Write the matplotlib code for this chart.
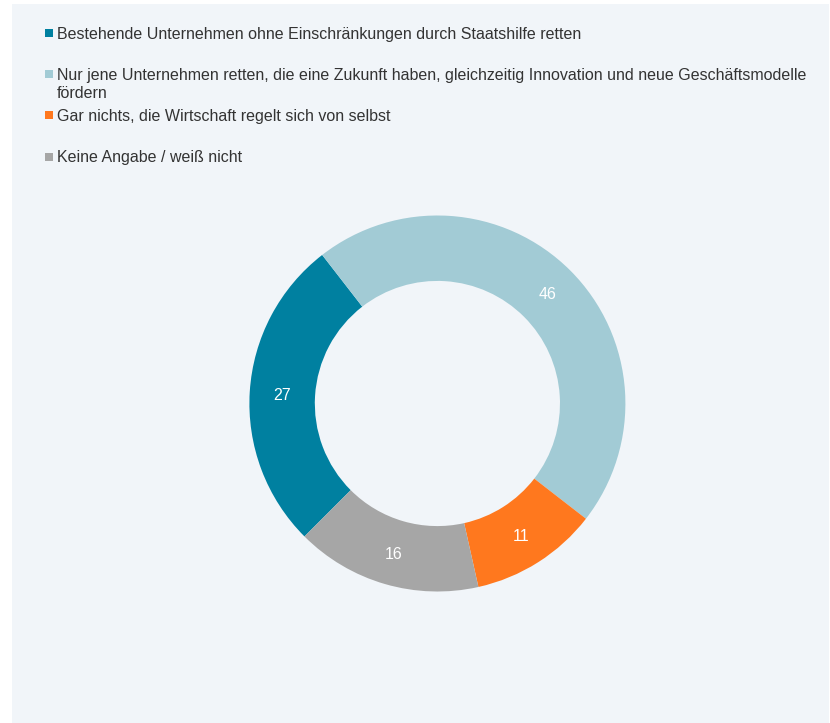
import textwrap
import matplotlib
matplotlib.use("Agg")
import matplotlib.pyplot as plt
from matplotlib.patches import Rectangle

categories = [
    "Bestehende Unternehmen ohne Einschränkungen durch Staatshilfe retten",
    "Nur jene Unternehmen retten, die eine Zukunft haben, gleichzeitig Innovation und neue Geschäftsmodelle fördern",
    "Gar nichts, die Wirtschaft regelt sich von selbst",
    "Keine Angabe / weiß nicht",
]
values = [27, 46, 11, 16]
colors = ["#0080A0", "#A2CBD5", "#FF781E", "#A6A6A6"]

plt.rcParams['font.family'] = ['Liberation Sans', 'DejaVu Sans']

W, H = 830, 723
fig = plt.figure(figsize=(W / 100, H / 100), dpi=100)
fig.patch.set_facecolor("white")

# panel background
fig.patches.append(Rectangle((12 / W, 0), (829 - 12) / W, (723 - 4) / H,
                             transform=fig.transFigure, facecolor="#F1F5F9",
                             edgecolor="none", zorder=-5))

# donut
cx, cy, R = 437.4, 403.5, 188.0
ax = fig.add_axes([(cx - R) / W, (H - cy - R) / H, 2 * R / W, 2 * R / H])
ax.set_zorder(3)
ax.set_facecolor("none")
wedges, texts, autotexts = ax.pie(
    values, colors=colors, startangle=225, counterclock=False, radius=1.0,
    wedgeprops=dict(width=0.348, linewidth=0, edgecolor="none"),
    autopct=lambda p: f"{p:.0f}", pctdistance=0.828,
    textprops=dict(color="white", fontsize=11.5))
for t in autotexts:
    t.set_va("center_baseline")
ax.set_xlim(-1, 1)
ax.set_ylim(-1, 1)
ax.set_aspect("equal")
ax.axis("off")

# legend
y0, step, lh = 32.5, 41.3, 18.0
for i, (lab, col) in enumerate(zip(categories, colors)):
    y = y0 + i * step
    fig.patches.append(Rectangle((45 / W, 1 - (y + 4.2) / H), 8 / W, 8 / H,
                                 transform=fig.transFigure, facecolor=col,
                                 edgecolor="none", zorder=2))
    for j, line in enumerate(textwrap.wrap(lab, width=102)):
        fig.text(56.5 / W, 1 - (y + j * lh) / H, line, fontsize=11.5,
                 color="#333333", va="center_baseline", ha="left")

fig.savefig("out.png", dpi=100)
